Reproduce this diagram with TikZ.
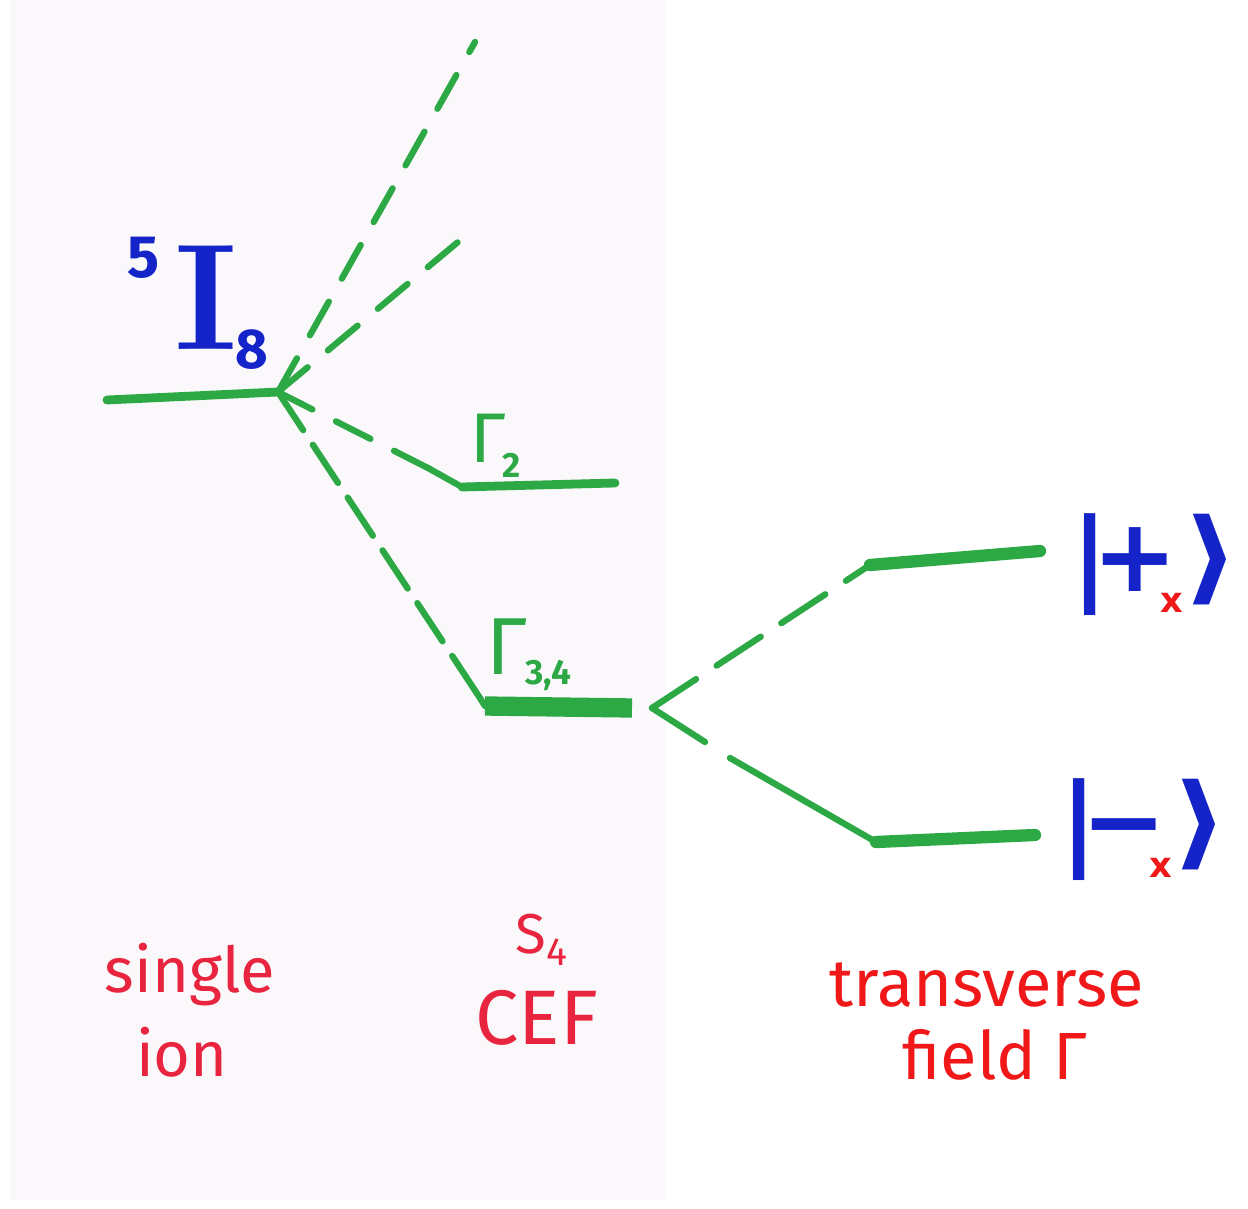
\documentclass[tikz,border=0pt]{standalone}
\usepackage{fontspec}
\setmainfont{Fira Sans}
\newfontfamily\dejavu{DejaVu Sans}
\definecolor{lgreen}{RGB}{44,168,68}
\definecolor{kblue}{RGB}{20,36,200}
\definecolor{lred}{RGB}{232,36,62}
\definecolor{fred}{RGB}{240,24,24}
\definecolor{paper}{RGB}{250,248,250}
\newcommand{\gsubtext}[2][-9pt]{\raisebox{#1}{\fontsize{20}{22}\selectfont\bfseries #2}}
\newcommand{\myket}[1]{|\kern-9pt#1\kern-10pt\raisebox{-12pt}{\fontsize{20}{22}\selectfont\bfseries\color{fred}x}\kern0pt\scalebox{1.2}[1]{⟩}}
\begin{document}
\begin{tikzpicture}[x=0.02cm,y=-0.02cm,
  level/.style={draw=lgreen,line width=5pt,line cap=round},
  thicklevel/.style={draw=lgreen,line width=11pt},
  splitlevel/.style={draw=lgreen,line width=7pt,line cap=round},
  conn/.style={draw=lgreen,line width=3.6pt,line cap=round,dash pattern=on 22pt off 15pt},
  solidconn/.style={draw=lgreen,line width=3.6pt,line cap=round},
  glab/.style={text=lgreen,inner sep=0pt,anchor=base west,font=\fontsize{40}{44}\selectfont},
  blab/.style={text=kblue,inner sep=0pt},
  ketlab/.style={text=kblue,inner sep=0pt,anchor=base west,font=\fontsize{58}{62}\selectfont\dejavu\bfseries},
  rlab/.style={text=lred,inner sep=0pt,font=\fontsize{36}{40}\selectfont},
  flab/.style={text=fred,inner sep=0pt,font=\fontsize{38}{42}\selectfont}]
\useasboundingbox (0,0) rectangle (1248,1209);
\fill[white] (0,0) rectangle (1248,1209);
\fill[paper] (10,0) rectangle (665,1200);
% level coordinates
\coordinate (Ia) at (107,400);
\coordinate (Ib) at (278,392);
\coordinate (upA) at (475,42);
\coordinate (upB) at (458,242);
\coordinate (G2k) at (428,468);
\coordinate (G2a) at (462,487);
\coordinate (G2b) at (615,483);
\coordinate (G34k) at (478,695);
\coordinate (G34a) at (485,706);
\coordinate (G34b) at (632,708);
\coordinate (Sp) at (652,708);
\coordinate (Pa) at (870,565);
\coordinate (Pb) at (1040,551);
\coordinate (Mk1) at (705,742);
\coordinate (Mk2) at (730,758);
\coordinate (Ma) at (876,842);
\coordinate (Mb) at (1035,835);
% levels
\draw[level] (Ia) -- (Ib);
\draw[level] (G2a) -- (G2b);
\draw[thicklevel] (G34a) -- (G34b);
\draw[splitlevel] (Pa) -- (Pb);
\draw[splitlevel] (Ma) -- (Mb);
% connectors
\draw[conn] (Ib) -- (upA);
\draw[conn] (Ib) -- (upB);
\draw[conn] (Ib) -- (G2k);
\draw[solidconn] (G2k) -- (G2a);
\draw[conn,dash pattern=on 26pt off 10pt] (Ib) -- (G34k);
\draw[solidconn] (G34k) -- (G34a);
\draw[conn,dash pattern=on 30pt off 14pt] (Sp) -- (Pa);
\draw[solidconn] (Sp) -- (Mk1);
\draw[solidconn] (Mk2) -- (Ma);
% labels
\node[blab,font=\fontsize{34}{36}\selectfont\bfseries] (t5) at (144,258) {5};
\node[blab,font=\fontsize{86}{90}\selectfont] (tI) at (206,298) {\fontspec{Latin Modern Roman}\bfseries I};
\node[blab,font=\fontsize{32}{34}\selectfont\bfseries] (t8) at (252,350) {8};
\node[glab] (g2) at (470,462) {Γ\kern-2pt\gsubtext{2}};
\node[glab,font=\fontsize{46}{50}\selectfont] (g34) at (486,674) {Γ\kern-1pt\gsubtext[-6pt]{3,4}};
% kets
\node[ketlab] (kp) at (1071,591) {\myket{+}};
\node[ketlab] (km) at (1060,856) {\myket{−}};
\node[rlab] (s1) at (190,975) {single};
\node[rlab] (s2) at (182,1052) {ion};
\node[rlab,font=\fontsize{32}{36}\selectfont] (c1) at (542,940) {S\textsubscript{4}};
\node[rlab,font=\fontsize{44}{48}\selectfont] (c2) at (537,1018) {CEF};
\node[flab] (f1) at (987,985) {transverse};
\node[flab] (f2) at (995,1055) {field Γ};
\end{tikzpicture}
\end{document}
